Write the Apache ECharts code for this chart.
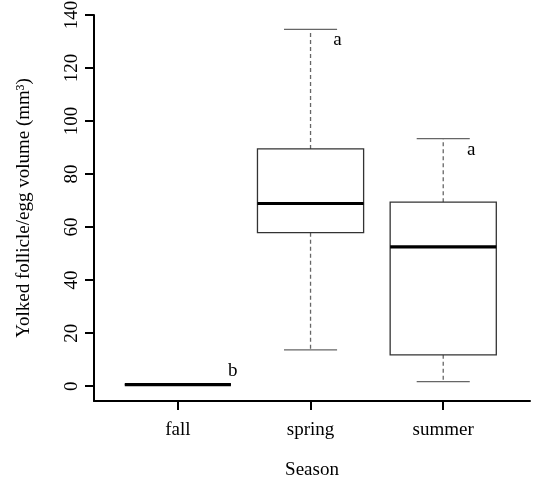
<!DOCTYPE html>
<html>
<head>
<meta charset="utf-8">
<script src="https://cdn.jsdelivr.net/npm/echarts@6/dist/echarts.min.js"></script>
<style>html,body{margin:0;padding:0;background:#fff;}#c{width:534px;height:481px;}</style>
</head>
<body>
<div id="c"></div>
<script>
// ---- data ----
const categories = ['fall', 'spring', 'summer'];
const whiskerLow  = [0.6, 13.7, 1.7];
const q1          = [0.6, 57.9, 11.8];
const median      = [0.6, 68.9, 52.5];
const q3          = [0.6, 89.5, 69.4];
const whiskerHigh = [0.6, 134.6, 93.4];
const letters     = ['b', 'a', 'a'];
const yTicks      = [0, 20, 40, 60, 80, 100, 120, 140];

// ---- styling (not data) ----
const FONT = '"Liberation Serif", "Times New Roman", serif';
const FS = 19;
const letterOffsets = [[55, -14], [27, 11], [28, 11]];
const boxHalf = 0.4, capHalf = 0.2;

const seriesData = categories.map((c, i) => [i + 1, whiskerLow[i], q1[i], median[i], q3[i], whiskerHigh[i]]);

const chart = echarts.init(document.getElementById('c'), null, {renderer: 'canvas'});
chart.setOption({
  animation: false,
  backgroundColor: '#fff',
  grid: {left: 94, right: 4, top: 15, bottom: 80, containLabel: false, outerBoundsMode: 'none'},
  xAxis: {
    type: 'value', min: 0.368, max: 3.654,
    axisLine: {show: true, onZero: false, lineStyle: {color: '#000', width: 2}},
    axisTick: {show: true, customValues: [1, 2, 3], length: 9, lineStyle: {color: '#000', width: 2}},
    axisLabel: {show: true, customValues: [1, 2, 3], margin: 20,
      formatter: v => categories[Math.round(v) - 1],
      color: '#000', fontSize: FS, fontFamily: FONT},
    splitLine: {show: false},
    name: 'Season', nameLocation: 'middle', nameGap: 60,
    nameTextStyle: {color: '#000', fontSize: FS, fontFamily: FONT}
  },
  yAxis: {
    type: 'value', min: -5.6, max: 140,
    axisLine: {show: true, onZero: false, lineStyle: {color: '#000', width: 2}},
    axisTick: {show: true, customValues: yTicks, length: 9, lineStyle: {color: '#000', width: 2}},
    axisLabel: {show: true, customValues: yTicks, rotate: 90, margin: 12,
      color: '#000', fontSize: FS, fontFamily: FONT},
    splitLine: {show: false},
    name: 'Yolked follicle/egg volume (mm³)', nameLocation: 'middle', nameGap: 60, nameRotate: 90,
    nameTextStyle: {color: '#000', fontSize: FS, fontFamily: FONT}
  },
  series: [{
    type: 'custom',
    data: seriesData,
    encode: {x: 0, y: [1, 2, 3, 4, 5]},
    renderItem: function (params, api) {
      const i = params.dataIndex;
      const x = api.value(0);
      const lo = api.value(1), a = api.value(2), m = api.value(3), b = api.value(4), hi = api.value(5);
      const pLo = api.coord([x, lo]), pA = api.coord([x, a]), pM = api.coord([x, m]);
      const pB = api.coord([x, b]), pHi = api.coord([x, hi]);
      const left = api.coord([x - boxHalf, m])[0], right = api.coord([x + boxHalf, m])[0];
      const cl = api.coord([x - capHalf, m])[0], cr = api.coord([x + capHalf, m])[0];
      const cx = pM[0];
      const children = [];
      const wStyle = {stroke: '#666', lineWidth: 1.3, lineDash: [4, 3]};
      const cStyle = {stroke: '#666', lineWidth: 1.3};
      if (hi > b) {
        children.push({type: 'line', shape: {x1: cx, y1: pB[1], x2: cx, y2: pHi[1]}, style: wStyle});
        children.push({type: 'line', shape: {x1: cl, y1: pHi[1], x2: cr, y2: pHi[1]}, style: cStyle});
      }
      if (lo < a) {
        children.push({type: 'line', shape: {x1: cx, y1: pA[1], x2: cx, y2: pLo[1]}, style: wStyle});
        children.push({type: 'line', shape: {x1: cl, y1: pLo[1], x2: cr, y2: pLo[1]}, style: cStyle});
      }
      children.push({type: 'rect', shape: {x: left, y: pB[1], width: right - left, height: pA[1] - pB[1]},
        style: {fill: '#fff', stroke: '#333', lineWidth: 1.3}});
      children.push({type: 'line', shape: {x1: left, y1: pM[1], x2: right, y2: pM[1]},
        style: {stroke: '#000', lineWidth: 3.2}});
      const off = letterOffsets[i];
      children.push({type: 'text', x: cx + off[0], y: pHi[1] + off[1],
        style: {text: letters[i], align: 'center', verticalAlign: 'middle',
          fontSize: FS, fontFamily: FONT, fill: '#000'}});
      return {type: 'group', children: children};
    }
  }]
});
</script>
</body>
</html>
